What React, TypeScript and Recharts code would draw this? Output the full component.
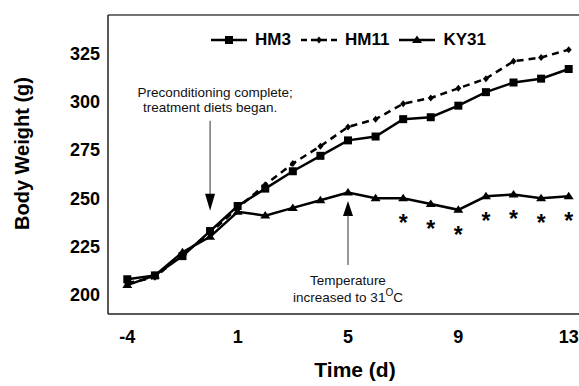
import { LineChart, Line, XAxis, YAxis, ReferenceLine, ReferenceDot, Legend, LabelList, Label } from "recharts"

const FONT = "'Liberation Sans', Arial, Helvetica, sans-serif"

// days on the x axis (no day 0), plotted evenly spaced
const days = [-4, -3, -2, -1, 1, 2, 3, 4, 5, 6, 7, 8, 9, 10, 11, 12, 13]
const seriesNames = ["HM3", "HM11", "KY31"]
const hm3 = [208, 210, 220, 233, 246, 255, 264, 272, 280, 282, 291, 292, 298, 305, 310, 312, 317]
const hm11 = [206, 209, 221, 232, 245, 257, 268, 277, 287, 291, 299, 302, 307, 312, 321, 323, 327]
const ky31 = [205, 210, 222, 230, 243, 241, 245, 249, 253, 250, 250, 247, 244, 251, 252, 250, 251]
// * marks under KY31
const sig = [0, 0, 0, 0, 0, 0, 0, 0, 0, 0, 1, 1, 1, 1, 1, 1, 1]
const yTicks = [200, 225, 250, 275, 300, 325]
const xTickIdx = [0, 4, 8, 12, 16]

const data = days.map((d, i) => ({
  i,
  day: d,
  hm3: hm3[i],
  hm11: hm11[i],
  ky31: ky31[i],
  sig: sig[i],
}))

const Square = (props: any) => {
  const { cx, cy } = props
  if (cx == null || cy == null) return null
  return <rect x={cx - 4} y={cy - 4} width={8} height={8} fill="#000" />
}

const Diamond = (props: any) => {
  const { cx, cy } = props
  if (cx == null || cy == null) return null
  return <path d={`M${cx},${cy - 3.5}L${cx + 3},${cy}L${cx},${cy + 3.5}L${cx - 3},${cy}Z`} fill="#000" />
}

const Tri = (props: any) => {
  const { cx, cy } = props
  if (cx == null || cy == null) return null
  return <path d={`M${cx},${cy - 4.5}L${cx + 5},${cy + 3}L${cx - 5},${cy + 3}Z`} fill="#000" />
}

const Star = (props: any) => {
  const { x, y, value } = props
  if (!value) return null
  return (
    <text x={x} y={y + 33} textAnchor="middle" fontSize={23} fontWeight={700} fontFamily={FONT} fill="#000">
      *
    </text>
  )
}

const ArrowDown = (props: any) => {
  const { cx, cy } = props
  return (
    <g>
      <text x={cx + 5} y={cy - 114} textAnchor="middle" fontSize={13.5} fontFamily={FONT} fill="#111">
        Preconditioning complete;
      </text>
      <text x={cx} y={cy - 99} textAnchor="middle" fontSize={13.5} fontFamily={FONT} fill="#111">
        treatment diets began.
      </text>
      <line x1={cx} x2={cx} y1={cy - 90} y2={cy - 16} stroke="#333" strokeWidth={1} />
      <path d={`M${cx - 5},${cy - 17}L${cx + 5},${cy - 17}L${cx},${cy}Z`} fill="#000" />
    </g>
  )
}

const ArrowUp = (props: any) => {
  const { cx, cy } = props
  return (
    <g>
      <path d={`M${cx - 5},${cy + 15}L${cx + 5},${cy + 15}L${cx},${cy}Z`} fill="#000" />
      <line x1={cx} x2={cx} y1={cy + 14} y2={cy + 64} stroke="#333" strokeWidth={1} />
      <text x={cx} y={cy + 84} textAnchor="middle" fontSize={13.5} fontFamily={FONT} fill="#111">
        Temperature
      </text>
      <text x={cx} y={cy + 101} textAnchor="middle" fontSize={13.5} fontFamily={FONT} fill="#111">
        <tspan>increased to 31</tspan>
        <tspan dy={-6} fontSize={10}>O</tspan>
        <tspan dy={6}>C</tspan>
      </text>
    </g>
  )
}

const WeightLabel = (props: any) => {
  const vb = props.viewBox || {}
  const bx = 29
  const by = (vb.y ?? 15) + (vb.height ?? 299) / 2 - 11
  return (
    <text x={bx} y={by} transform={`rotate(-90 ${bx} ${by})`} textAnchor="middle" fontSize={20} fontWeight={700} fontFamily={FONT} fill="#000">
      Body Weight (g)
    </text>
  )
}

const TimeLabel = (props: any) => {
  const vb = props.viewBox || {}
  const bx = (vb.x ?? 108) + (vb.width ?? 481) / 2 + 7
  return (
    <text x={bx} y={377} textAnchor="middle" fontSize={21} fontWeight={700} fontFamily={FONT} fill="#000">
      Time (d)
    </text>
  )
}

const LegendIcon = ({ kind }: { kind: string }) => {
  const dash = kind === "hm11" ? "6 4" : undefined
  return (
    <svg width={36} height={14} style={{ display: "block" }}>
      <line x1={0} x2={36} y1={7} y2={7} stroke="#000" strokeWidth={2.5} strokeDasharray={dash} />
      {kind === "hm3" && <Square cx={18} cy={7} />}
      {kind === "hm11" && <Diamond cx={18} cy={7} />}
      {kind === "ky31" && <Tri cx={18} cy={7} />}
    </svg>
  )
}

const LegendContent = (props: any) => {
  const items = [...(props.payload || [])].sort(
    (a: any, b: any) => seriesNames.indexOf(a.value) - seriesNames.indexOf(b.value)
  )
  return (
    <div style={{ display: "flex", justifyContent: "center", alignItems: "center", height: 20, gap: 10 }}>
      {items.map((entry: any) => (
        <div key={entry.value} style={{ display: "flex", alignItems: "center", gap: 8 }}>
          <LegendIcon kind={String(entry.dataKey)} />
          <span style={{ fontFamily: FONT, fontWeight: 700, fontSize: 17, color: "#000" }}>{entry.value}</span>
        </div>
      ))}
    </div>
  )
}

export default function App() {
  return (
    <div
      style={{
        position: "absolute",
        left: 0,
        top: 0,
        width: 579,
        height: 386,
        overflow: "hidden",
        background: "#fff",
      }}
    >
      <LineChart width={600} height={386} data={data} margin={{ top: 15, right: 12, bottom: 0, left: 0 }}>
        <XAxis
          dataKey="i"
          type="number"
          domain={[-0.7, 16.7]}
          ticks={xTickIdx}
          tickFormatter={(v: number) => String(days[v])}
          tickLine={false}
          axisLine={{ stroke: "#222", strokeWidth: 1.5 }}
          height={72}
          tickMargin={10}
          tick={{ fontSize: 18, fontWeight: 700, fill: "#000", fontFamily: FONT }}
        >
          <Label content={TimeLabel} />
        </XAxis>
        <YAxis
          domain={[190, 345]}
          ticks={yTicks}
          tickLine={false}
          axisLine={{ stroke: "#222", strokeWidth: 1.5 }}
          width={108}
          tickMargin={2}
          tick={{ fontSize: 18, fontWeight: 700, fill: "#000", fontFamily: FONT }}
        >
          <Label content={WeightLabel} />
        </YAxis>
        <ReferenceLine y={345} stroke="#444" strokeWidth={1.5} />
        <ReferenceLine x={16.7} stroke="#444" strokeWidth={1.5} />
        <Legend
          verticalAlign="top"
          content={LegendContent}
          wrapperStyle={{ top: 30, left: 108, width: 481, height: 0 }}
        />
        <Line
          dataKey="hm3"
          name={seriesNames[0]}
          stroke="#000"
          strokeWidth={2.5}
          dot={Square}
          activeDot={false}
          isAnimationActive={false}
        />
        <Line
          dataKey="hm11"
          name={seriesNames[1]}
          stroke="#000"
          strokeWidth={2.5}
          strokeDasharray="7 5"
          dot={Diamond}
          activeDot={false}
          isAnimationActive={false}
        />
        <Line
          dataKey="ky31"
          name={seriesNames[2]}
          stroke="#000"
          strokeWidth={2.5}
          dot={Tri}
          activeDot={false}
          isAnimationActive={false}
        >
          <LabelList dataKey="sig" content={Star} />
        </Line>
        <ReferenceDot x={3} y={243.5} r={0} shape={ArrowDown} />
        <ReferenceDot x={8} y={248.6} r={0} shape={ArrowUp} />
      </LineChart>
    </div>
  )
}
